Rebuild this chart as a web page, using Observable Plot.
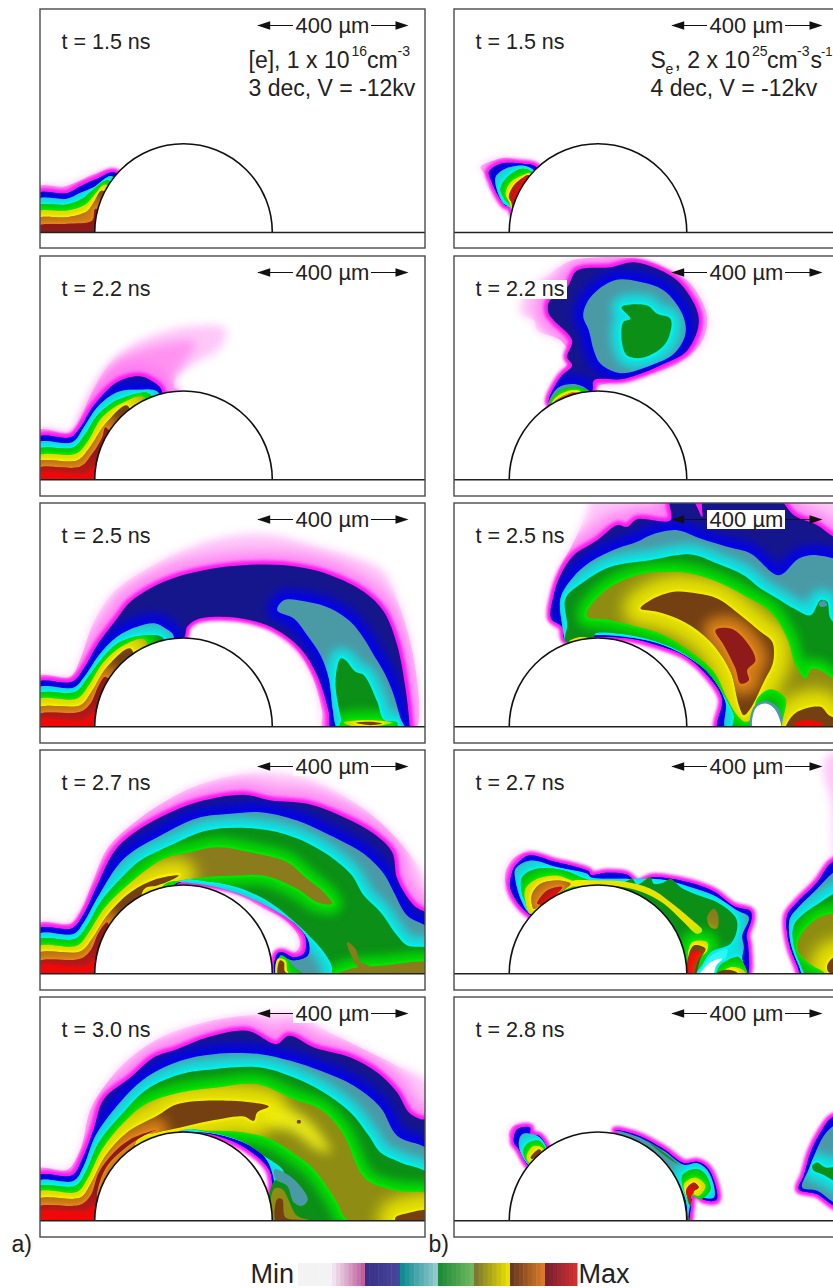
<!DOCTYPE html>
<html><head><meta charset="utf-8">
<style>
html,body{margin:0;padding:0;background:#fff;overflow:hidden;width:833px;height:1288px}
svg{overflow:hidden;display:block}
</style>
<script src="https://cdn.jsdelivr.net/npm/d3@7"></script>
<script src="https://cdn.jsdelivr.net/npm/@observablehq/plot@0.6"></script>
</head><body><div id="chart"></div>
<script>
// Band names, ranks, fills and inner-edge colours of the colour map
const levelNames = ["pale","pink","blue","cyan","green","yellow","olive","lemon","sun","brown","red","hot","white"];
const levelRanks = [0,1,2,3,4,5,5,5,5,6,7,8,9];
const levelFills = ["#fdc8f8","#ff94f0","#16168c","#4a9aa6","#0b8f16","#8e8c12","#8a7c1c","#e8e400","#e8e81a","#744012","#8e1a1a","#f00808","#ffffff"];
const levelGlows = [null,null,"#ff18f0","#0000f4","#00f4f0","#00ea00","#00ea00","#00ea00",null,"#f4f000","#e08818","#c01818",null];
// Annotations
const rowLabels = [["t = 1.5 ns","t = 2.2 ns","t = 2.5 ns","t = 2.7 ns","t = 3.0 ns"],["t = 1.5 ns","t = 2.2 ns","t = 2.5 ns","t = 2.7 ns","t = 2.8 ns"]];
const scaleLabel = "400 µm";
// Contour outlines, one list per panel
const U = [[300,705],[20,705]];
const a15 = [
 ["pale",[[20,560],[100,558],[150,540],[190,522],[258,511],...U]],
 ["blue",[[20,580],[110,578],[150,557],[195,537],[255,517],...U]],
 ["cyan",[[20,598],[110,595],[150,577],[190,560],[245,527],...U]],
 ["green",[[20,618],[110,612],[155,595],[185,570],[235,540],...U]],
 ["yellow",[[20,635],[110,630],[165,612],[190,585],[225,552],...U]],
 ["brown",[[20,655],[110,650],[170,632],[190,605],[215,570],...U]],
 ["red",[[20,677],[110,670],[185,660],[195,625],...U]]
];
const a22 = [
 ["pale",[[20,540],[120,548],[150,505],[180,435],[240,335],[300,285],[380,250],[470,228],[585,235],[570,290],[490,340],[440,375],[430,410],[448,420],...U]],
 ["pink",[[20,550],[125,553],[155,490],[190,420],[250,340],[330,298],[420,275],[495,275],[465,330],[430,375],[415,400],[440,418],...U]],
 ["blue",[[20,562],[120,560],[150,530],[190,465],[260,395],[325,377],[365,392],[395,425],...U]],
 ["cyan",[[20,578],[125,575],[160,530],[200,470],[260,425],[320,418],[385,428],...U]],
 ["green",[[20,598],[130,590],[165,550],[205,490],[270,445],[360,432],...U]],
 ["yellow",[[20,618],[135,610],[170,575],[215,500],[280,455],[340,440],...U]],
 ["brown",[[20,635],[140,630],[175,595],[225,520],[290,465],...U]],
 ["red",[[20,655],[150,648],[185,610],[215,560],[225,530],...U]],
 ["hot",[[20,668],[170,668],[190,650],[195,700],[20,700]]]
];
const a25 = [
 ["pale",[[20,535],[120,535],[150,480],[190,370],[250,280],[350,210],[470,150],[600,112],[720,108],[850,140],[1000,185],[1060,220],[1110,330],[1150,480],[1165,660],[1150,700],[880,700],[875,640],[840,520],[780,430],[700,375],[600,345],[500,350],[465,390],[452,420],...U]],
 ["blue",[[20,553],[125,550],[160,510],[200,440],[260,360],[300,310],[400,250],[520,215],[690,198],[800,205],[900,230],[1000,280],[1060,340],[1100,440],[1125,570],[1137,680],[1137,700],[905,700],[895,640],[860,530],[810,450],[740,395],[660,365],[560,355],[495,365],[470,385],[462,415],...U]],
 ["cyan",[[20,570],[130,567],[165,530],[205,470],[260,415],[320,385],[375,375],[405,390],[430,415],...U]],
 ["cyan",[[760,305],[740,335],[790,360],[830,410],[870,470],[895,540],[905,620],[915,680],[925,700],[1125,700],[1110,660],[1090,590],[1060,520],[1030,470],[1000,420],[960,370],[900,330],[830,310]]],
 ["green",[[20,588],[135,580],[170,540],[215,480],[270,430],[350,410],[400,422],...U]],
 ["green",[[930,480],[945,485],[975,520],[1000,530],[1040,610],[1060,665],[1100,672],[1090,700],[925,700],[932,665],[925,630],[915,550]]],
 ["yellow",[[20,605],[140,600],[175,560],[220,490],[280,440],[345,425],...U]],
 ["yellow",[[940,672],[1010,665],[1085,672],[1040,682],[960,682]]],
 ["brown",[[20,630],[150,620],[180,585],[230,505],[300,450],...U]],
 ["brown",[[975,673],[1020,670],[1055,675],[1020,680]]],
 ["red",[[20,650],[150,640],[180,615],[205,560],[225,535],...U]],
 ["hot",[[20,665],[160,665],[190,645],[195,700],[20,700]]]
];
const a27 = [
 ["pale",[[20,535],[120,535],[150,500],[190,400],[230,310],[300,240],[400,170],[500,120],[640,85],[760,85],[860,110],[1000,190],[1090,270],[1140,330],[1185,400],[1200,500],[1200,700],[740,700],[735,625],[760,615],[790,622],[808,600],[800,565],[760,520],[700,490],[640,455],[560,425],[470,408],[430,415],...U]],
 ["blue",[[20,552],[125,548],[160,505],[200,420],[250,320],[300,270],[400,210],[500,170],[640,148],[720,165],[830,175],[940,215],[1030,265],[1085,320],[1100,400],[1150,480],[1200,515],[1200,700],[740,700],[740,625],[755,620],[790,635],[820,625],[825,575],[790,530],[720,480],[640,440],[560,420],[480,412],[440,415],...U]],
 ["cyan",[[20,568],[130,565],[160,530],[205,450],[280,340],[400,265],[500,218],[600,205],[690,200],[800,225],[900,270],[1000,325],[1060,385],[1090,440],[1130,510],[1200,555],[1200,700],[745,700],[750,635],[790,645],[832,630],[835,590],[800,540],[725,490],[640,450],[560,425],[480,413],[430,416],...U]],
 ["green",[[20,585],[135,580],[170,540],[210,470],[285,385],[330,345],[420,300],[530,255],[680,250],[790,275],[880,320],[960,385],[1000,450],[1050,500],[1100,570],[1130,600],[1200,612],[1200,700],[905,700],[905,665],[880,620],[840,575],[770,510],[700,460],[620,425],[530,408],[440,410],...U]],
 ["green",[[745,700],[750,630],[770,640],[790,665],[840,700]],"plain"],
 ["olive",[[20,605],[140,600],[175,560],[220,490],[290,420],[400,340],[480,320],[560,305],[680,325],[770,350],[830,400],[880,440],[905,475],[860,470],[800,430],[700,390],[620,390],[520,395],[450,405],[400,418],...U]],
 ["olive",[[900,700],[960,670],[1060,660],[1200,655],[1200,700]]],
 ["olive",[[950,590],[975,610],[990,650],[1015,660],[990,670],[960,625]],"plain"],
 ["lemon",[[300,445],[360,400],[420,385],[450,385],[420,405],[340,432]],"plain"],
 ["yellow",[[740,700],[742,640],[765,645],[772,680],[800,700]]],
 ["brown",[[20,625],[150,618],[185,580],[230,510],[300,440],[380,400],[445,390],[420,405],[380,420],[340,432],...U]],
 ["brown",[[745,700],[748,645],[760,650],[765,680],[830,685],[830,700]]],
 ["red",[[20,650],[150,640],[180,615],[205,560],[230,530],[235,545],[210,600],[200,700],[20,700]]],
 ["hot",[[20,662],[165,662],[190,645],[195,700],[20,700]]]
];
const a30 = [
 ["pale",[[20,530],[110,532],[150,470],[180,350],[230,270],[300,195],[400,130],[520,90],[640,70],[800,65],[880,110],[1000,170],[1100,220],[1200,280],[1200,700],[725,700],[722,600],[720,540],[700,500],[600,440],[500,420],[440,420],...U]],
 ["blue",[[20,552],[125,548],[155,500],[190,410],[220,320],[300,255],[370,195],[440,170],[530,135],[650,115],[738,155],[775,130],[850,165],[960,195],[1040,240],[1100,300],[1135,360],[1170,380],[1200,385],[1200,700],[725,700],[725,570],[715,530],[650,470],[560,430],[480,418],[440,420],...U]],
 ["cyan",[[20,568],[130,565],[160,520],[195,430],[260,340],[340,260],[450,205],[550,185],[690,185],[780,205],[870,235],[970,280],[1050,345],[1100,430],[1200,480],[1200,700],[735,700],[730,560],[700,490],[640,450],[560,425],[480,418],[430,420],...U]],
 ["green",[[20,585],[135,580],[165,540],[205,450],[270,370],[350,290],[450,245],[550,230],[690,225],[790,255],[880,300],[960,360],[1015,430],[1050,480],[1110,510],[1200,550],[1200,700],[730,700],[725,575],[760,540],[700,490],[630,445],[540,420],[440,418],...U]],
 ["yellow",[[20,600],[140,598],[170,560],[215,470],[280,390],[345,335],[450,300],[560,285],[680,275],[790,320],[870,350],[935,420],[990,540],[1020,570],[1100,595],[1200,610],[1200,700],[950,680],[920,630],[850,530],[800,490],[720,440],[640,420],[540,415],[440,420],...U]],
 ["sun",[[700,345],[780,350],[850,400],[900,480],[860,470],[790,420],[710,390]]],
 ["yellow",[[730,700],[730,590],[755,590],[800,670],[840,685],[850,700]],"plain"],
 ["cyan",[[732,530],[770,545],[800,570],[832,620],[815,640],[790,630],[770,580],[735,560]],"plain"],
 ["brown",[[20,622],[150,615],[180,575],[225,490],[290,420],[380,370],[440,335],[600,325],[715,342],[680,360],[670,385],[640,372],[540,385],[450,405],[380,420],[320,440],...U]],
 ["brown",[[1095,675],[1130,662],[1200,655],[1200,700],[1100,700]]],
 ["brown",[[740,620],[755,620],[765,675],[820,685],[820,700],[740,700]],"plain"],
 ["brown",[[800,384],[810,384],[810,392],[800,392]],"plain"],
 ["red",[[20,645],[150,637],[180,610],[205,540],[250,480],[300,440],[378,412],[340,430],[280,470],[230,520],[200,600],[200,700],[20,700]]],
 ["hot",[[20,660],[170,655],[190,640],[195,700],[20,700]]]
];
const b15 = [
 ["pale",[[90,500],[130,480],[170,472],[220,485],[265,497],[300,600],[190,640],[180,622],[165,622],[130,570],[112,530]]],
 ["blue",[[115,515],[150,490],[215,490],[258,500],[300,600],[190,640],[180,618],[165,615],[140,580],[122,540]]],
 ["cyan",[[135,530],[165,505],[215,495],[250,510],[300,600],[190,640],[178,620],[160,610],[140,570]]],
 ["green",[[150,565],[170,530],[215,505],[245,515],[300,600],[190,640],[178,612],[165,600]]],
 ["yellow",[[165,580],[180,545],[215,525],[240,518],[300,600],[190,640],[178,608]]],
 ["brown",[[175,590],[190,555],[220,530],[235,525],[300,600],[190,640],[183,605]]],
 ["hot",[[188,592],[205,555],[232,528],[300,600],[200,640]]]
];
const b22 = [
 ["pale",[[210,160],[230,120],[290,75],[350,35],[420,22],[560,25],[660,60],[720,100],[770,200],[750,280],[680,340],[580,375],[480,395],[430,415],[440,440],[300,470],[300,440],[330,370],[360,320],[330,270],[260,240],[250,210],[210,190]]],
 ["blue",[[295,155],[350,110],[380,60],[480,50],[550,35],[620,55],[690,100],[745,205],[710,300],[640,340],[520,385],[430,390],[425,420],[400,440],[300,462],[295,450],[330,380],[365,345],[350,320],[365,270],[310,210],[295,190]]],
 ["cyan",[[398,195],[420,140],[490,90],[560,92],[640,120],[695,190],[705,250],[670,310],[600,345],[510,368],[450,340],[430,300],[415,240]]],
 ["green",[[513,170],[590,165],[620,190],[660,205],[655,260],[630,295],[575,322],[530,315],[515,280],[518,215],[540,205]]],
 ["cyan",[[295,455],[325,410],[380,402],[415,420],[430,440],[300,470]]],
 ["green",[[300,452],[330,420],[380,410],[415,422],[420,450],[300,470]],"plain"],
 ["yellow",[[305,455],[335,428],[385,420],[400,450],[310,470]]],
 ["brown",[[312,455],[340,435],[380,425],[400,450],[315,470]]],
 ["red",[[318,455],[350,435],[375,428],[400,450],[320,470]]]
];
const b25 = [
 ["pale",[[300,350],[320,230],[370,130],[410,40],[420,5],[600,5],[800,5],[1000,5],[1180,5],[1200,25],[1200,300],[1200,680],[1190,700],[990,700],[990,620],[950,600],[860,700],[800,700],[810,600],[740,470],[640,430],[540,410],[430,415],[345,430],[335,390]]],
 ["blue",[[302,360],[310,290],[330,230],[370,170],[440,125],[500,80],[530,85],[560,62],[660,65],[660,5],[725,5],[755,55],[760,5],[985,5],[1030,50],[1100,80],[1160,120],[1200,120],[1200,700],[805,700],[815,600],[770,530],[700,470],[620,440],[540,420],[430,415],[345,425],[335,385]]],
 ["cyan",[[345,430],[335,380],[330,300],[365,240],[420,190],[500,150],[560,130],[600,110],[680,95],[750,120],[830,145],[900,165],[985,230],[1045,180],[1100,170],[1200,215],[1200,700],[830,700],[825,610],[780,530],[720,480],[640,440],[560,420],[430,410],[345,425]]],
 ["green",[[345,430],[350,380],[345,300],[400,250],[480,205],[600,185],[720,168],[800,195],[880,230],[930,270],[980,300],[1030,330],[1080,350],[1110,305],[1130,310],[1140,360],[1200,420],[1200,700],[850,700],[850,650],[820,590],[770,520],[700,465],[620,430],[540,410],[435,405],[430,415]]],
 ["cyan",[[1105,315],[1120,305],[1130,320],[1110,325]],"plain"],
 ["yellow",[[410,340],[430,310],[480,265],[560,230],[650,220],[720,225],[800,250],[880,290],[960,340],[1010,420],[1035,500],[1065,540],[1085,510],[1140,535],[1200,600],[1200,700],[1000,700],[1005,600],[960,572],[920,600],[905,660],[885,670],[860,650],[830,600],[790,520],[720,460],[640,410],[560,385],[480,365],[410,355]]],
 ["lemon",[[355,428],[385,416],[410,418],[380,428]],"plain"],
 ["brown",[[570,330],[600,305],[670,280],[740,285],[800,300],[870,350],[930,400],[965,430],[968,490],[940,550],[900,630],[880,650],[865,620],[840,520],[780,430],[700,370],[620,340]]],
 ["red",[[795,395],[840,390],[880,420],[915,485],[890,515],[895,545],[870,555],[855,510],[820,440]]],
 ["cyan",[[903,700],[910,625],[945,607],[985,630],[995,700]],"plain"],
 ["white",[[910,700],[915,630],[945,615],[975,635],[990,700]]],
 ["brown",[[1010,675],[1040,640],[1110,625],[1135,650],[1200,680],[1200,700],[1005,700]]],
 ["hot",[[1030,675],[1070,665],[1120,675],[1100,685],[1040,685]]]
];
const b27 = [
 ["pale",[[163,400],[183,345],[225,322],[260,340],[300,345],[200,480],[245,505],[200,470]]],
 ["blue",[[185,380],[195,360],[235,330],[310,348],[415,378],[420,388],[470,382],[530,388],[560,412],[605,395],[650,398],[720,412],[790,438],[850,482],[900,497],[903,520],[888,570],[893,600],[885,700],[790,700],[795,665],[825,640],[830,610],[860,600],[830,600],[780,650],[720,700],[500,600],[240,510],[180,430]]],
 ["cyan",[[195,405],[195,370],[240,345],[320,365],[410,385],[420,395],[520,400],[600,400],[650,405],[720,425],[790,450],[860,495],[895,515],[875,570],[880,605],[875,640],[890,700],[795,700],[795,665],[815,640],[780,650],[720,700],[500,600],[240,505],[215,470]]],
 ["white",[[830,610],[790,625],[760,650],[730,700],[795,700],[800,660],[825,640]]],
 ["green",[[215,445],[215,395],[260,370],[340,375],[420,405],[520,410],[545,400],[560,418],[600,395],[610,415],[640,410],[660,400],[690,425],[720,440],[760,455],[800,470],[855,515],[860,550],[840,595],[780,620],[730,680],[500,600],[240,505],[225,470]]],
 ["green",[[800,700],[805,665],[840,640],[865,635],[890,700]]],
 ["yellow",[[225,470],[225,430],[260,400],[320,390],[365,405],[400,412],[350,430],[300,455],[240,505]]],
 ["lemon",[[365,408],[440,405],[520,408],[600,430],[660,470],[720,520],[755,555],[740,565],[700,530],[640,475],[580,442],[520,425],[440,420],[365,420]],"plain"],
 ["olive",[[770,515],[790,490],[802,505],[800,548],[780,545]],"plain"],
 ["yellow",[[795,700],[840,665],[880,675],[890,700]]],
 ["yellow",[[712,640],[725,590],[770,590],[770,615],[745,640],[725,700]]],
 ["brown",[[245,480],[245,445],[270,415],[320,405],[360,415],[330,440],[280,470],[250,490]]],
 ["red",[[260,475],[290,435],[335,425],[285,470]]],
 ["hot",[[268,478],[310,440],[330,430],[285,475]]],
 ["brown",[[712,640],[730,600],[765,610],[750,640],[730,700],[712,700]]],
 ["hot",[[718,630],[735,615],[752,625],[735,650],[720,700],[712,690]]],
 ["brown",[[800,682],[830,673],[860,682],[830,700]]],
 ["pale",[[1120,90],[1125,40],[1150,20],[1200,20],[1200,700],[1060,700],[1030,640],[1010,560],[1010,510],[1050,460],[1100,400],[1145,340],[1148,280],[1140,160]]],
 ["blue",[[1200,340],[1145,350],[1100,410],[1040,470],[1010,510],[1015,590],[1040,660],[1060,700],[1200,700]]],
 ["cyan",[[1200,350],[1150,380],[1100,430],[1040,490],[1018,520],[1020,590],[1045,660],[1065,700],[1200,700]]],
 ["green",[[1200,430],[1150,445],[1110,470],[1060,505],[1030,540],[1030,600],[1060,680],[1070,700],[1200,700]]],
 ["yellow",[[1200,510],[1120,510],[1085,530],[1045,580],[1045,620],[1085,660],[1120,680],[1130,700],[1200,700]]],
 ["brown",[[1200,635],[1150,635],[1130,660],[1135,680],[1200,680]]]
];
const b28 = [
 ["pale",[[175,430],[190,400],[235,405],[240,420],[210,450]]],
 ["blue",[[190,450],[200,410],[238,405],[240,425],[265,430],[288,465],[300,550],[235,520],[205,470]]],
 ["cyan",[[205,460],[215,425],[260,430],[288,465],[300,550],[235,518]]],
 ["green",[[218,475],[235,450],[265,445],[285,470],[300,540],[240,515],[225,500]]],
 ["yellow",[[228,490],[250,460],[280,470],[290,520],[235,510]]],
 ["brown",[[240,495],[265,470],[272,475],[245,500]]],
 ["blue",[[495,413],[560,428],[640,470],[700,512],[740,508],[770,525],[795,580],[798,622],[760,622],[730,595],[720,650],[715,685],[700,620],[650,520],[580,450]]],
 ["cyan",[[500,416],[560,432],[640,475],[700,517],[740,512],[768,530],[790,580],[790,615],[760,615],[730,590],[718,640],[712,680],[705,620],[650,520]]],
 ["green",[[590,445],[640,480],[690,520],[650,495]],"plain"],
 ["green",[[695,550],[730,530],[760,540],[780,590],[750,620],[725,610],[720,640],[710,620]]],
 ["yellow",[[700,575],[735,555],[765,580],[745,610],[725,605],[720,630],[712,620]]],
 ["brown",[[708,590],[730,570],[745,585],[725,600],[720,640],[712,620]]],
 ["hot",[[712,595],[725,585],[730,600],[718,610]]],
 ["green",[[710,670],[718,680],[712,700]],"plain"],
 ["blue",[[1200,370],[1145,375],[1110,420],[1080,480],[1060,550],[1045,590],[1100,605],[1150,640],[1200,660]]],
 ["cyan",[[1200,385],[1150,400],[1120,430],[1095,480],[1075,530],[1055,585],[1100,595],[1150,630],[1200,650]]],
 ["green",[[1085,520],[1100,510],[1125,525],[1200,520],[1200,585],[1115,545],[1090,535]]]
];
// Layout of the ten panels
const panels = [[a15,a22,a25,a27,a30],[b15,b22,b25,b27,b28]];
const cropX = [30,450], cropY = [0,250,498,745,992];
const frameLeft = [40,454], frameRight = [425,860], domeX = [183,597.5];
const rowTop = [9,256,503,750,997], rowBottom = [248,496,743,990,1237], rowGround = [232,479.3,726.3,973.3,1220.3];
// Legend ramp
const rampStart = [298,332,365,400,438,474,510,545];
const rampEnd = [332,365,400,438,474,510,545,577];
const rampFrom = ["#f3f3f3","#f0e2ee","#3a3088","#108c90","#1f8a3a","#7e7830","#6a3a20","#7a2030"];
const rampTo = ["#f3f3f3","#c060a0","#46469a","#90c8cc","#70b860","#e8e000","#d87a28","#d03030"];

const idx = n => levelNames.indexOf(n);
const marks = [], effects = [];
let uid = 0;
const CURVE = "catmull-rom-closed";
const cols=[0,1], rows=[0,1,2,3,4];
const cells = cols.flatMap(c=>rows.map(r=>({c,r})));

rows.forEach(r => {
  // clear whatever the row above left behind
  marks.push(Plot.rect([r],{x1:()=>0,x2:()=>860,y1:d=>rowTop[d]-8,y2:d=>rowBottom[d],fill:"white"}));
  cols.forEach(c => {
    // clear any halo that column a sent across the gap
    if (c===1) marks.push(Plot.rect([r],{x1:()=>frameRight[0],x2:()=>860,y1:d=>rowTop[d]-8,y2:d=>rowBottom[d],fill:"white"}));
    const entries = panels[c][r];
    const fillIds = [];
    entries.forEach(([lv,pts,flag]) => {
      const xf = d => cropX[c] + d[0]/3, yf = d => cropY[r] + d[1]/3;
      const k = idx(lv), rank = levelRanks[k], g = levelGlows[k];
      if (g && flag !== "plain") {
        if (lv === "blue") {
          const paleIds = fillIds.filter(f=>f.rank===0).map(f=>f.id);
          [[26,7,"#ff70f2",.8,paleIds],[8,1.8,g,1,null]].forEach(([w,b,col,o,clip]) => {
            const id = "m"+(uid++);
            marks.push(Plot.line(pts,{x:xf,y:yf,stroke:col,strokeWidth:w,strokeOpacity:o,fill:"none",curve:CURVE,className:id}));
            effects.push({id,blur:b,clip});
          });
        } else {
          const lower = fillIds.filter(f => f.rank < rank);
          const top = lower.length ? d3.max(lower,f=>f.rank) : null;
          const clip = lower.filter(f=>f.rank===top).map(f=>f.id);
          const wide = rank===6 ? [34,8,.85] : rank===7 ? [24,6,.85] : [20,5,.8];
          [[wide[0],wide[1],wide[2]],[4,.8,1]].forEach(([w,b,o]) => {
            const id = "m"+(uid++);
            marks.push(Plot.line(pts,{x:xf,y:yf,stroke:g,strokeWidth:w,strokeOpacity:o,fill:"none",curve:CURVE,className:id}));
            effects.push({id,blur:b,clip});
          });
        }
      }
      const id = "m"+(uid++);
      marks.push(Plot.line(pts,{x:xf,y:yf,fill:levelFills[k],stroke:"none",curve:CURVE,className:id}));
      fillIds.push({id,rank});
      if (lv==="pale") effects.push({id,blur:4,clip:null});
      if (lv==="pink") effects.push({id,blur:5,clip:null});
      if (lv==="sun") effects.push({id,blur:6,clip:null});
    });
  });
  // Domes and base plates
  const rowCells = cols.map(c=>({c,r}));
  marks.push(Plot.dot(rowCells,{x:d=>domeX[d.c],y:d=>rowGround[d.r],r:88.8,fill:"white",stroke:"#111",strokeWidth:1.6}));
  marks.push(Plot.rect(rowCells,{x1:d=>frameLeft[d.c],x2:d=>frameRight[d.c],y1:d=>rowGround[d.r],y2:d=>rowBottom[d.r],fill:"white",stroke:"none"}));
});
// Masks around the frames, and the base plates again over any halo from the row below
const gutters = [
 {x1:0,x2:frameLeft[0],y1:0,y2:1288},{x1:frameRight[0],x2:frameLeft[1],y1:0,y2:1288},{x1:0,x2:860,y1:0,y2:rowTop[0]},{x1:0,x2:860,y1:rowBottom[4],y2:1288},
 ...[0,1,2,3].map(r=>({x1:0,x2:860,y1:rowBottom[r],y2:rowTop[r+1]}))
];
marks.push(Plot.rect(gutters,{x1:"x1",x2:"x2",y1:"y1",y2:"y2",fill:"white"}));
marks.push(Plot.rect(cells,{x1:d=>frameLeft[d.c],x2:d=>frameRight[d.c],y1:d=>rowGround[d.r],y2:d=>rowBottom[d.r],fill:"white",stroke:"none"}));
marks.push(Plot.ruleY(cells,{x1:d=>frameLeft[d.c],x2:d=>frameRight[d.c],y:d=>rowGround[d.r],stroke:"#222",strokeWidth:1.6}));
marks.push(Plot.rect(cells,{x1:d=>frameLeft[d.c],x2:d=>frameRight[d.c],y1:d=>rowTop[d.r],y2:d=>rowBottom[d.r],fill:"none",stroke:"#4a4a4a",strokeWidth:1.4}));
// Scale bars
const barX = [0,414];
const head = {draw(ctx){ctx.moveTo(0,0);ctx.lineTo(-13,-4.2);ctx.lineTo(-13,4.2);ctx.closePath();}};
const FONT = "Liberation Sans, Arial, sans-serif";
marks.push(Plot.rect(cells,{x1:d=>barX[d.c]+293,x2:d=>barX[d.c]+371,y1:d=>rowTop[d.r]+7,y2:d=>rowTop[d.r]+26,fill:"white"}));
marks.push(Plot.rect([{c:1,r:1}],{x1:()=>473,x2:()=>567,y1:d=>rowTop[d.r]+24,y2:d=>rowTop[d.r]+43,fill:"white"}));
marks.push(Plot.ruleY(cells,{x1:d=>barX[d.c]+258,x2:d=>barX[d.c]+293,y:d=>rowTop[d.r]+16,stroke:"#111",strokeWidth:1.2}));
marks.push(Plot.ruleY(cells,{x1:d=>barX[d.c]+371,x2:d=>barX[d.c]+406,y:d=>rowTop[d.r]+16,stroke:"#111",strokeWidth:1.2}));
marks.push(Plot.dot(cells,{x:d=>barX[d.c]+256.7,y:d=>rowTop[d.r]+16,symbol:head,rotate:180,fill:"#111",stroke:"none"}));
marks.push(Plot.dot(cells,{x:d=>barX[d.c]+408,y:d=>rowTop[d.r]+16,symbol:head,fill:"#111",stroke:"none"}));
const ink="#222";
marks.push(Plot.text(cells,{x:d=>barX[d.c]+332,y:d=>rowTop[d.r]+23,text:()=>scaleLabel,fontSize:22,fill:ink,textAnchor:"middle",lineAnchor:"bottom",fontFamily:FONT}));
marks.push(Plot.text(cells,{x:d=>frameLeft[d.c]+21,y:d=>rowTop[d.r]+39.5,text:d=>rowLabels[d.c][d.r],fontSize:21.5,fill:ink,textAnchor:"start",lineAnchor:"bottom",fontFamily:FONT}));
// Panel captions
const captions = [
 ["[e], 1 x 10",248,67,23],["16",351,55,14],["cm",366.5,67,23],["-3",397,55,14],["3 dec, V = -12kv",248,95,23],
 ["S",650,67,23],["e",665,73,14],[", 2 x 10",674,67,23],["25",751.5,55,14],["cm",766.5,67,23],["-3",796.5,55,14],["s",810,67,23],["-1",820.5,55,13],["4 dec, V = -12kv",650,95,23],
 ["a)",11,1251,23],["b)",428,1251,23],["Min",250,1282,27],["Max",578,1282,27]
];
marks.push(Plot.text(captions,{x:d=>d[1],y:d=>d[2],text:d=>d[0],fontSize:d=>d[3],fill:ink,textAnchor:"start",lineAnchor:"bottom",fontFamily:FONT}));
// Legend
const ramp = rampFrom.flatMap((f,i)=>{const s=8,t=d3.interpolateRgb(f,rampTo[i]);const w=(rampEnd[i]-rampStart[i])/s;return d3.range(s).map(k=>({x1:rampStart[i]+k*w,x2:rampStart[i]+(k+1)*w+.5,c:t(k/(s-1))}));});
marks.push(Plot.rect(ramp,{x1:"x1",x2:"x2",y1:()=>1263,y2:()=>1286,fill:"c"}));

const chart = Plot.plot({width:833,height:1288,margin:0,
  x:{domain:[0,833],range:[0,833],axis:null},
  y:{domain:[0,1288],range:[0,1288],axis:null},
  color:{type:"identity"},
  style:{background:"white",overflow:"hidden"},
  marks});
// Soft band edges: blur each glow and keep it inside the band it belongs to
const NS = "http://www.w3.org/2000/svg";
const defs = document.createElementNS(NS,"defs");
chart.insertBefore(defs,chart.firstChild);
effects.forEach(e => {
  const g = chart.querySelector("g."+e.id);
  if (!g) return;
  g.style.filter = `blur(${e.blur}px)`;
  if (e.clip && e.clip.length) {
    const cp = document.createElementNS(NS,"clipPath");
    cp.setAttribute("id","c"+e.id);
    e.clip.forEach(t => {
      const src = chart.querySelector("g."+t+" path");
      if (src) { const p = document.createElementNS(NS,"path"); p.setAttribute("d",src.getAttribute("d")); cp.appendChild(p); }
    });
    defs.appendChild(cp);
    g.setAttribute("clip-path",`url(#c${e.id})`);
  }
});
document.getElementById("chart").appendChild(chart);
</script></body></html>
